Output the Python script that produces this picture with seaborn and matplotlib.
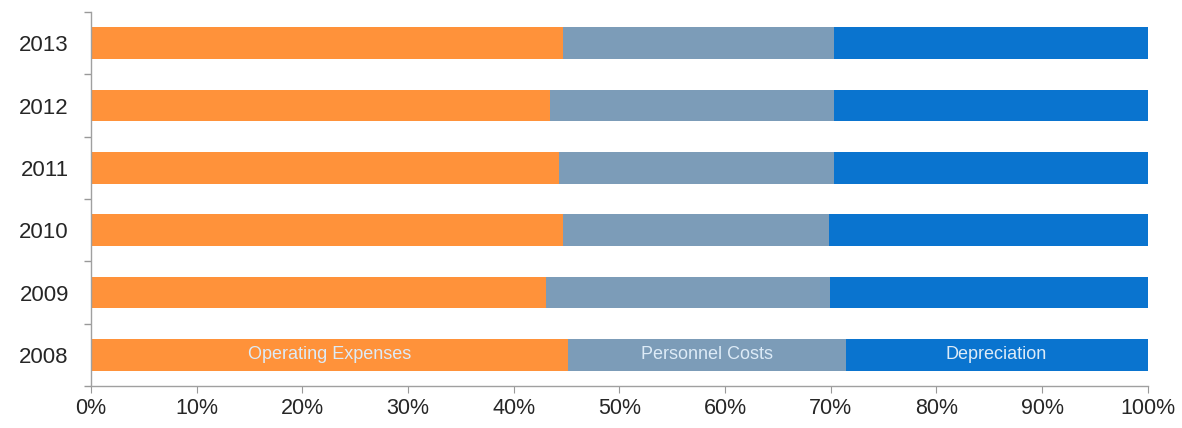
import matplotlib
matplotlib.use("Agg")
import matplotlib.pyplot as plt
import matplotlib.ticker as mticker
import seaborn as sns
import numpy as np
import pandas as pd

# data (share of total cost, %)
years = ["2013", "2012", "2011", "2010", "2009", "2008"]
operating = [44.7, 43.4, 44.3, 44.7, 43.1, 45.1]
personnel = [25.6, 26.9, 26.0, 25.1, 26.8, 26.3]
depreciation = [29.7, 29.7, 29.7, 30.2, 30.1, 28.6]
series_names = ["Operating Expenses", "Personnel Costs", "Depreciation"]
colors = ["#FF923A", "#7C9CB8", "#0A74CF"]

df = pd.DataFrame({
    "year": years,
    "op": operating,
    "pers": personnel,
    "dep": depreciation,
})
df["cum_pers"] = df["op"] + df["pers"]
df["cum_dep"] = df["cum_pers"] + df["dep"]

sns.set_style("white")
plt.rcParams["font.family"] = ["Liberation Sans", "DejaVu Sans"]
fig = plt.figure(figsize=(11.82, 4.28), dpi=100)
ax = fig.add_axes([0.077, 0.098, 0.894, 0.874])

# stacked bars: draw cumulative totals back to front
for col, color in zip(["cum_dep", "cum_pers", "op"], colors[::-1]):
    sns.barplot(data=df, x=col, y="year", order=years, orient="h",
                color=color, width=0.51, saturation=1, linewidth=0, ax=ax)

# labels inside the 2008 bar
row = df[df["year"] == "2008"].iloc[0]
y8 = years.index("2008")
starts = [0, row["op"], row["cum_pers"]]
widths = [row["op"], row["pers"], row["dep"]]
for name, s, w in zip(series_names, starts, widths):
    ax.text(s + w / 2, y8, name, ha="center", va="center",
            color="#DDEBF7", fontsize=13)

ax.set_xlim(0, 100)
ax.set_ylim(len(years) - 0.5, -0.5)
ax.xaxis.set_major_locator(mticker.MultipleLocator(10))
ax.xaxis.set_major_formatter(mticker.FuncFormatter(lambda v, p: f"{v:.0f}%"))
ax.set_yticks(range(len(years)))
ax.set_yticklabels(years)
ax.set_yticks(np.arange(-0.5, len(years), 1), minor=True)
ax.tick_params(axis="y", which="major", length=0, labelsize=16, pad=16)
ax.tick_params(axis="y", which="minor", length=5, color="#999999", width=1,
               left=True, direction="out")
ax.tick_params(axis="x", which="major", length=5, color="#999999",
               labelsize=15.5, direction="out", bottom=True)
ax.set_xlabel("")
ax.set_ylabel("")
for s in ["top", "right"]:
    ax.spines[s].set_visible(False)
for s in ["left", "bottom"]:
    ax.spines[s].set_color("#A0A0A0")
    ax.spines[s].set_linewidth(1)

fig.savefig("out.png", dpi=100)
